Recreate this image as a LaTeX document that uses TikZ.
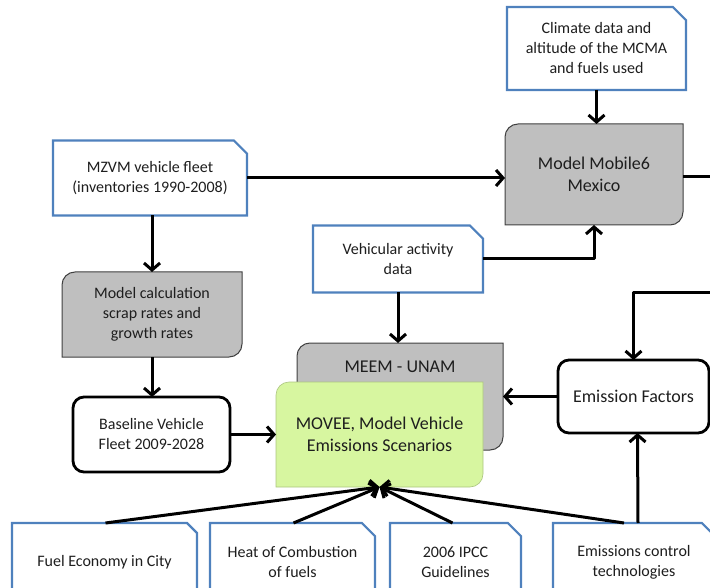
\documentclass[tikz,border=0pt]{standalone}
\usepackage{fontspec}
\setmainfont{Carlito}
\usetikzlibrary{shapes.misc,arrows.meta,backgrounds}
\definecolor{boxblue}{RGB}{79,129,189}
\definecolor{modelgray}{RGB}{191,191,191}
\definecolor{movegreen}{RGB}{215,246,160}
\definecolor{textgray}{RGB}{30,30,30}

\tikzset{
  smalltext/.style={font=\fontsize{16}{20}\selectfont, text=textgray, align=center},
  bigtext/.style={font=\fontsize{18}{21.5}\selectfont, text=textgray, align=center},
  inbox/.style={smalltext, chamfered rectangle, chamfered rectangle corners=north east,
    chamfered rectangle xsep=10pt, draw=boxblue, line width=2.2pt, fill=white,
    inner sep=0pt, outer sep=0pt},
  fleetbox/.style={smalltext, rectangle, rounded corners=11pt, draw=black,
    line width=2.8pt, inner sep=0pt, outer sep=0pt},
  modelbox/.style={rectangle, inner sep=0pt, outer sep=0pt},
  graymodel/.style={fill=modelgray, draw=black!75, line width=1pt},
  greenmodel/.style={fill=movegreen, draw=movegreen!80!black, line width=.6pt},
  conn/.style={line width=3pt, line join=round,
    -{Straight Barb[length=7pt,width=16pt,line width=3pt]}}
}

% box with the top left and bottom right corners rounded
\newcommand\diagbox[2]{%
  \path[#2] ([xshift=13pt]#1.north west) -- (#1.north east)
    -- ([yshift=13pt]#1.south east) arc[start angle=0,end angle=-90,radius=13pt]
    -- (#1.south west) -- ([yshift=-13pt]#1.north west)
    arc[start angle=180,end angle=90,radius=13pt] -- cycle;}

\begin{document}
\begin{tikzpicture}[x=1pt,y=-1pt]
  \useasboundingbox (0,0) rectangle (710,588);

  \node[inbox, minimum width=179pt, minimum height=83pt] (climate) at (596.5,48.5)
    {Climate data and\\altitude of the MCMA\\and fuels used};
  \node[modelbox, bigtext, minimum width=178pt, minimum height=101pt] (mobile) at (594,174.5)
    {Model Mobile6\\Mexico};
  \node[inbox, minimum width=194pt, minimum height=75pt] (fleet) at (150,178)
    {MZVM vehicle fleet\\(inventories 1990-2008)};
  \node[inbox, minimum width=170pt, minimum height=67pt] (activity) at (398,259)
    {Vehicular activity\\data};
  \node[modelbox, smalltext, minimum width=180pt, minimum height=85pt] (scrap) at (152,314.5)
    {Model calculation\\scrap rates and\\growth rates};
  \node[fleetbox, minimum width=157pt, minimum height=75pt] (baseline) at (151.5,434.5)
    {Baseline Vehicle\\Fleet 2009-2028};
  \node[modelbox, minimum width=206pt, minimum height=107pt,
    label={[bigtext, anchor=center, yshift=-24pt]north:MEEM - UNAM}] (meem) at (400,396.5) {};
  \node[modelbox, bigtext, minimum width=207pt, minimum height=105pt] (movee) at (379.5,434.5)
    {MOVEE, Model Vehicle\\Emissions Scenarios};
  \node[fleetbox, bigtext, minimum width=151pt, minimum height=73pt] (factors) at (633.5,396.5)
    {Emission Factors};

  \node[inbox, minimum width=185pt, minimum height=78pt] (economy) at (104.5,562)
    {Fuel Economy in City};
  \node[inbox, minimum width=165pt, minimum height=78pt] (heat) at (292.5,562)
    {Heat of Combustion\\of fuels};
  \node[inbox, minimum width=131pt, minimum height=78pt] (ipcc) at (455.5,562)
    {2006 IPCC\\Guidelines};
  \node[inbox, minimum width=162pt, minimum height=78pt] (control) at (634,562)
    {Emissions control\\technologies};

  \begin{scope}[on background layer]
    \diagbox{mobile}{graymodel}
    \diagbox{scrap}{graymodel}
    \diagbox{meem}{graymodel}
    \diagbox{movee}{greenmodel}
  \end{scope}

  \coordinate (outside) at (730,293);

  \draw[conn] (climate.south) -- (climate.south |- mobile.north);
  \draw[conn] (fleet.east) -- (fleet.east -| mobile.west);
  \draw[conn] ([yshift=-2pt]mobile.east) -| (outside) -| (factors.north);
  \draw[conn] (activity.south) -- (activity.south |- meem.north);
  \draw[conn] (activity.east) -| (mobile.south);
  \draw[conn] (scrap.north |- fleet.south) -- (scrap.north);
  \draw[conn] (scrap.south) -- (scrap.south |- baseline.north);
  \draw[conn] (baseline.east) -- (baseline.east -| movee.west);
  \draw[conn] (factors.west) -- (factors.west -| meem.east);

  \draw[conn] ([xshift=1pt]economy.north) -- (movee.south);
  \draw[conn] ([xshift=1pt]heat.north) -- (movee.south);
  \draw[conn] ([xshift=-3pt]ipcc.north) -- (movee.south);
  \draw[conn] ([xshift=-10pt]control.north) -- (movee.south);
  \draw[conn] ([xshift=4pt]control.north) -- ([xshift=4pt]factors.south);
\end{tikzpicture}
\end{document}
